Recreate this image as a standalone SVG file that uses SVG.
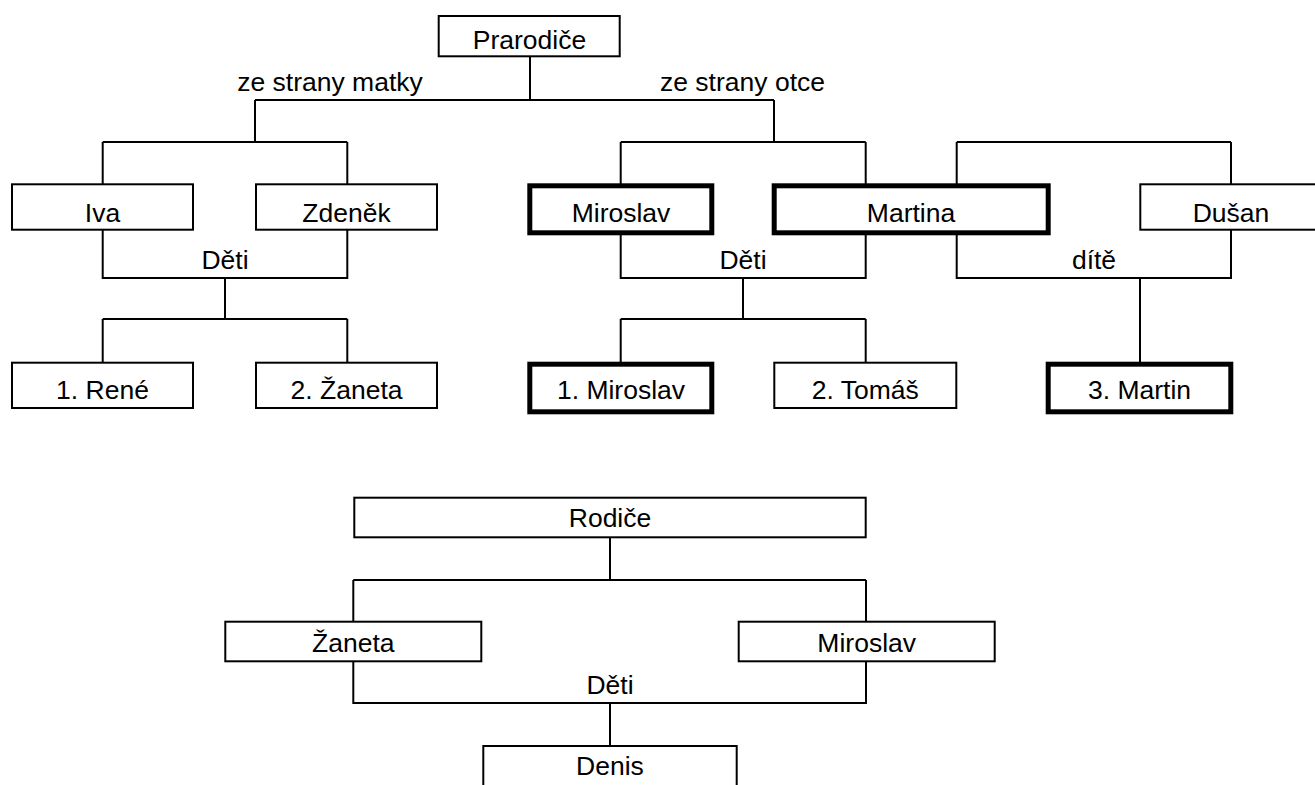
<svg xmlns="http://www.w3.org/2000/svg" width="1315" height="785" viewBox="0 0 1315 785">
<style>
  .box { fill: #ffffff; stroke: #000000; stroke-width: 2; }
  .bold { fill: #ffffff; stroke: #000000; stroke-width: 5; }
  .lbl { font-family: "Liberation Sans", Arial, sans-serif; font-size: 26.5px; fill: #000000; text-anchor: middle; }
  .conn { fill: none; stroke: #000000; stroke-width: 2; }
</style>
<rect x="0" y="0" width="1315" height="785" fill="#ffffff"/>
<g id="connectors" class="conn">
  <path d="M530 57 V100 M255 100 H774"/>
  <path d="M255 100 V142 M102.7 142 H347.3 M102.7 142 V184 M347.3 142 V184"/>
  <path d="M774 100 V142 M620.7 142 H865.7 M620.7 142 V184 M865.7 142 V184"/>
  <path d="M956.7 142 H1231 M956.7 142 V184 M1231 142 V184"/>
  <path d="M102.7 230 V278 H347.3 V230 M225 278 V319 M102.7 319 H347.3 M102.7 319 V363 M347.3 319 V363"/>
  <path d="M620.7 234 V278 H865.7 V234 M743 278 V319 M620.7 319 H865.7 M620.7 319 V363 M865.7 319 V363"/>
  <path d="M956.7 234 V278 H1231 V230 M1140 278 V363"/>
  <path d="M610 538 V580 M353.3 580 H866 M353.3 580 V622 M866 580 V622"/>
  <path d="M353.3 661 V703 H866 V661 M610 703 V746"/>
</g>
<g id="labels">
  <text class="lbl" x="330" y="90.5">ze strany matky</text>
  <text class="lbl" x="742.5" y="90.5">ze strany otce</text>
  <text class="lbl" x="225" y="269.3">Děti</text>
  <text class="lbl" x="743" y="269.3">Děti</text>
  <text class="lbl" x="1094" y="269.3">dítě</text>
  <text class="lbl" x="610" y="694">Děti</text>
</g>
<g id="n-prarodice"><rect class="box" x="438.7" y="16" width="181" height="40.3"/><text class="lbl" x="529.5" y="49.3">Prarodiče</text></g>
<g id="n-iva"><rect class="box" x="12" y="184.3" width="181" height="45.4"/><text class="lbl" x="102.5" y="221.7">Iva</text></g>
<g id="n-zdenek"><rect class="box" x="256" y="184.3" width="181" height="45.4"/><text class="lbl" x="346.5" y="221.7">Zdeněk</text></g>
<g id="n-miroslav"><rect class="bold" x="529.8" y="185.8" width="182" height="47"/><text class="lbl" x="621" y="221.7">Miroslav</text></g>
<g id="n-martina"><rect class="bold" x="774.2" y="185.8" width="274" height="47"/><text class="lbl" x="911" y="221.7">Martina</text></g>
<g id="n-dusan"><rect class="box" x="1140.3" y="184.3" width="181" height="45.4"/><text class="lbl" x="1231" y="221.7">Dušan</text></g>
<g id="n-rene"><rect class="box" x="12" y="362.7" width="181" height="45.3"/><text class="lbl" x="102.5" y="399.3">1. René</text></g>
<g id="n-zaneta"><rect class="box" x="256" y="362.7" width="181" height="45.3"/><text class="lbl" x="346.5" y="399.3">2. Žaneta</text></g>
<g id="n-miroslav-jr"><rect class="bold" x="529.8" y="364.2" width="182" height="47.6"/><text class="lbl" x="621" y="399.3">1. Miroslav</text></g>
<g id="n-tomas"><rect class="box" x="774.3" y="362.7" width="182" height="45.3"/><text class="lbl" x="865.3" y="399.3">2. Tomáš</text></g>
<g id="n-martin"><rect class="bold" x="1048.2" y="364.2" width="182.6" height="47.6"/><text class="lbl" x="1139.5" y="399.3">3. Martin</text></g>
<g id="n-rodice"><rect class="box" x="354.3" y="497.7" width="511.4" height="39.6"/><text class="lbl" x="610" y="526.7">Rodiče</text></g>
<g id="n-zaneta-p"><rect class="box" x="225.3" y="621.7" width="256" height="39.6"/><text class="lbl" x="353.3" y="651.7">Žaneta</text></g>
<g id="n-miroslav-p"><rect class="box" x="738.7" y="621.7" width="256" height="39.6"/><text class="lbl" x="866.7" y="651.7">Miroslav</text></g>
<g id="n-denis"><rect class="box" x="483.3" y="746" width="253.4" height="60"/><text class="lbl" x="610" y="775">Denis</text></g>
</svg>
